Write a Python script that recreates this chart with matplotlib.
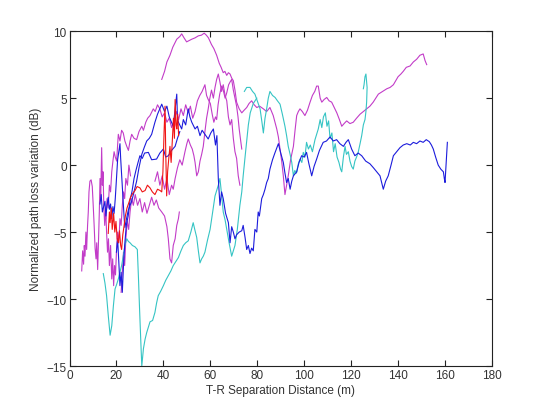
import numpy as np
import matplotlib
matplotlib.use("Agg")
import matplotlib.pyplot as plt

plt.rcParams['font.family'] = ['Liberation Sans', 'DejaVu Sans']

# measured traces, (distance m, variation dB)
mag_long = [(39.3, 6.4), (40.5, 7.0), (41.5, 7.7), (42.8, 8.2), (44, 8.8), (45.7, 9.4), (47, 9.6),
            (47.8, 9.8), (48.8, 9.5), (49.9, 9.2), (51, 9.3), (52.1, 9.4), (53.5, 9.5), (54.9, 9.65),
            (56.2, 9.7), (57.4, 9.85), (58.3, 9.7), (59.2, 9.5), (60.5, 9.0), (61.5, 8.7), (62.7, 8.2),
            (63.8, 7.6), (64.6, 7.3), (65.5, 6.9), (66.2, 7.0), (67, 6.7), (67.7, 6.9), (68.4, 6.8),
            (69.1, 6.5), (69.8, 6.3), (70.5, 5.6), (71.2, 4.7), (72.3, 4.2), (73.4, 3.9), (74.4, 4.1),
            (75.5, 4.3), (76.5, 4.6), (77.6, 4.8), (78.7, 4.5), (79.8, 4.3), (81, 4.4), (82.6, 4.2),
            (84, 4.0), (85.4, 4.3), (86.8, 3.7), (88.3, 2.7), (89, 2.1), (89.7, 1.2), (90.4, 0.3),
            (91.1, -0.8), (91.8, -2.2), (92.5, -1.5), (93.2, -0.8), (94.2, 0.4), (95.4, 1.4), (96.1, 2.6),
            (96.8, 3.7), (97.5, 4.0), (98.2, 4.2), (99.2, 4.0), (100.3, 3.7), (101.4, 4.1), (102.5, 4.7),
            (103.5, 5.2), (104.5, 5.5), (105.3, 5.9), (106, 5.9), (106.8, 5.0), (107.5, 4.7), (108.5, 4.9),
            (109.6, 5.05), (110.6, 4.8), (111.7, 4.7), (112.8, 4.3), (113.9, 3.9), (115, 3.4), (116, 2.9),
            (117, 3.1), (118.1, 3.3), (119.5, 3.1), (120.9, 3.2), (122.3, 3.5), (123.8, 3.8), (125.2, 4.0),
            (126.6, 4.2), (128, 4.4), (129.4, 4.7), (130.5, 5.0), (131.6, 5.3), (133.4, 5.5), (135.2, 5.7),
            (136.6, 5.8), (138, 6.0), (139, 6.3), (140, 6.6), (141.2, 6.8), (142.2, 7.0), (143.5, 7.3),
            (145.1, 7.4), (146.5, 7.7), (147.9, 7.9), (149.3, 8.2), (150.7, 8.3), (151.5, 7.8), (152.2, 7.5)]

mag_left = [(5.2, -7.9), (5.6, -6.4), (6.0, -7.4), (6.3, -6.0), (6.6, -6.8), (7.0, -5.0), (7.3, -6.3),
            (7.7, -4.5), (8.0, -3.5), (8.3, -2.0), (8.7, -1.2), (9.2, -1.1), (9.7, -1.6), (10.1, -3.0),
            (10.5, -4.5), (10.9, -6.2), (11.3, -7.0), (11.6, -5.8), (12.0, -7.8), (12.3, -6.0), (12.7, -3.5),
            (13.0, -1.0), (13.3, -2.5), (13.7, 1.3), (14.0, -1.5), (14.3, -0.5), (14.6, -3.0), (15.0, -4.5),
            (15.4, -3.2), (15.8, -5.0), (16.2, -6.5), (16.6, -5.5), (17, -7.5), (17.5, -6.0), (18, -8.5),
            (18.4, -7.0), (18.8, -9.0), (19.2, -7.5), (19.6, -8.2), (20, -6.5), (20.5, -5.0), (21, -5.8),
            (21.5, -4.0), (22, -4.5), (22.5, -3.0), (23, -2.0), (23.5, -2.5), (24, -1.0), (24.7, -1.5),
            (25.3, 0.0), (26, -0.8)]

mag_mid = [(15.5, -4.0), (16, -2.5), (16.5, -3.2), (17, -1.5), (17.5, -2.0), (18, -0.5), (18.5, 0.3),
           (19, 1.0), (19.5, 0.6), (20.1, 0.3), (20.5, 1.5), (20.8, 2.3), (21.5, 1.8), (22.2, 2.6),
           (22.9, 2.4), (23.6, 1.8), (24.4, 1.4), (25.1, 1.1), (25.8, 1.8), (26.5, 2.3), (27.5, 2.0),
           (28.6, 1.9), (29.6, 2.5), (30.8, 2.9), (31.5, 2.6), (32.5, 3.2), (33.3, 3.5), (34.3, 3.7),
           (35.7, 4.2), (36.5, 4.0), (37.5, 4.5), (38.5, 4.2), (39.5, 3.6), (40.5, 3.9), (41.5, 3.2),
           (42.5, 3.5), (43.5, 2.8), (44.5, 3.3), (45.5, 4.0), (46.5, 3.4), (47.5, 4.2), (48.5, 3.7),
           (49.5, 4.5), (50.6, 3.9), (51.5, 4.4), (52.5, 3.5), (53.5, 4.0), (54.5, 4.8), (55.5, 5.2),
           (56.5, 5.5), (57.7, 6.0), (58.4, 5.2), (59.1, 4.9), (60, 4.6), (60.8, 3.8), (61.5, 3.2),
           (62.2, 3.6), (62.7, 3.4), (63.3, 4.5), (64, 5.3), (64.8, 5.9), (65.5, 5.6), (66.3, 5.0),
           (67, 5.4), (67.8, 6.0), (68.4, 6.2), (69.1, 6.4), (69.8, 5.6), (70.5, 5.0), (71.2, 4.4),
           (71.8, 3.6), (72.3, 2.7), (72.8, 2.0), (73.4, 1.2)]

mag_low = [(22, -9.5), (22.5, -8.0), (23, -6.5), (23.5, -7.5), (24, -5.5), (24.6, -4.2), (25.2, -4.8),
           (25.8, -3.5), (26.5, -2.5), (27.2, -3.0), (28, -2.2), (29, -3.0), (30, -2.5), (31, -3.5),
           (32, -2.8), (33, -3.6), (34, -3.0), (35, -2.4), (36, -3.0), (37, -2.6), (38, -3.2),
           (39.3, -3.5), (40.5, -3.8), (41.5, -4.6), (42.1, -5.5), (42.8, -7.0), (43.5, -7.3),
           (44.2, -6.0), (45, -5.5), (45.7, -4.5), (46.4, -4.0), (46.8, -3.5)]

mag_v = [(36.4, -1.2), (37.5, -0.5), (38.5, -1.5), (39.5, -0.8), (40.5, -1.8), (41.5, -1.0), (42.5, -2.2),
         (43.5, -1.5), (44.2, -1.8), (45, -1.0), (46, -0.2), (47, 0.4), (48, 0.0), (49.2, 1.0),
         (50, 1.6), (50.6, 1.95), (51.5, 1.5), (52.3, 1.2), (53, 0.7), (53.5, 0.2), (54.2, -0.8),
         (54.9, -0.5), (55.6, 0.3), (56.3, 0.8), (57, 1.4), (57.7, 2.5), (58.4, 3.5), (59.1, 4.2),
         (59.8, 5.0), (60.5, 5.6), (61.3, 5.0), (62, 5.8), (62.7, 6.4), (63.4, 6.8), (64.1, 6.2),
         (64.8, 5.5), (65.5, 6.0), (66.3, 5.2), (67, 4.8), (67.7, 3.6), (68.4, 3.0), (69.1, 3.4),
         (69.8, 2.0), (70.5, 1.0), (71.2, 0.5), (71.9, -0.8), (72.6, -1.5)]

cyan_deep = [(14.4, -8.1), (15.1, -8.8), (15.8, -9.75), (16.5, -11.2), (17.3, -12.7), (18, -12.0),
             (18.7, -10.5), (19.4, -9.25), (20.1, -8.9), (20.8, -8.5), (21.5, -8.0), (22.2, -7.5),
             (22.9, -6.8), (23.6, -6.0), (24.4, -5.5), (25.1, -5.7), (25.8, -5.8), (26.8, -6.0),
             (27.9, -6.1), (28.9, -6.3), (29.4, -8.5), (29.8, -10.5), (30.3, -12.8), (30.8, -15.0),
             (31.5, -13.7), (32.2, -13.0), (32.9, -12.5), (33.6, -12.1), (34.3, -11.7), (35.4, -11.6),
             (36.4, -11.0), (37.1, -10.3), (37.8, -9.75), (38.9, -9.4), (40, -9.0), (41, -8.6),
             (42.1, -8.25), (43.2, -7.9), (44.2, -7.5), (45.3, -7.2), (46.4, -6.9), (47.5, -6.4),
             (48.5, -6.0), (49.5, -5.8), (50.6, -5.65), (51.7, -5.0), (52.7, -4.3), (53.5, -4.9),
             (54.2, -5.4), (54.9, -6.4), (55.6, -7.3), (56.3, -7.0), (57, -6.8), (57.7, -6.5),
             (58.8, -5.6), (59.9, -4.8), (61, -3.5), (62, -2.3), (63.4, -1.5), (64.1, -1.0),
             (64.8, -2.2), (65.5, -3.5), (66.3, -4.1), (67, -4.8), (68, -5.8), (69.1, -6.8),
             (69.8, -6.4), (70.5, -6.0), (71.5, -4.8), (72.6, -3.0), (73.4, -2.0), (74, -0.8),
             (74.8, 0.6), (75.5, 1.8), (76.2, 3.0), (77, 3.9), (78.3, 4.6), (79.8, 5.0)]

cyan_right = [(74.5, 5.5), (75.5, 5.8), (76.9, 5.8), (78, 5.5), (79, 5.3), (80, 4.8), (81.2, 4.2),
              (82, 3.2), (82.6, 2.4), (83.3, 3.5), (84, 4.2), (84.7, 5.0), (85.4, 5.5), (86.5, 5.2),
              (87.6, 5.05), (88.6, 4.8), (89.7, 4.55), (90.7, 3.8), (91.8, 2.9), (92.5, 2.2), (93.2, 1.4),
              (94, 0.8), (94.7, 0.2), (95.4, -0.8), (96, -0.4), (96.7, -0.6), (97.5, 0.1), (98.2, 0.45),
              (99, 0.2), (99.6, 0.95), (100.3, 0.6), (101, 1.7), (101.8, 1.2), (102.6, 1.5), (103.5, 1.0),
              (104.6, 1.9), (105.3, 2.3), (106, 2.7), (106.8, 3.4), (107.5, 2.8), (108.2, 3.6), (109, 3.9),
              (109.7, 2.9), (110.4, 3.3), (111, 2.0), (111.8, 2.4), (112.5, 1.0), (113.2, 1.6), (114, 0.6),
              (114.8, 0.2), (115.5, -0.3), (116, -0.5), (116.7, 0.6), (117.4, 1.4), (118, 0.8), (118.8, 1.0),
              (119.5, 0.3), (120.2, -0.1), (120.9, -0.3), (121.6, 0.3), (122.3, 0.6), (123, 0.95),
              (123.8, 1.6), (124.5, 2.2), (125.2, 3.0), (125.9, 3.4), (126.3, 4.0), (126.6, 4.7),
              (126.8, 5.8), (126.3, 6.8), (125.9, 6.6), (125.5, 6.0), (125.2, 5.7)]

blue_long = [(13, -2.9), (13.5, -2.2), (14, -3.5), (14.4, -3.2), (15.1, -2.7), (15.5, -3.8), (16, -3.0),
             (16.5, -2.4), (17, -3.3), (17.5, -2.9), (18, -4.0), (18.5, -3.1), (19, -3.6), (19.5, -2.5),
             (20, -1.0), (20.5, 0.4), (21, 1.0), (21.5, 1.6), (21.8, 0.5), (22.2, -0.7), (22.6, -1.8),
             (22.9, -2.7), (23.3, -4.0), (23.6, -4.65), (24.3, -4.0), (25, -3.4), (25.8, -3.0),
             (26.5, -2.7), (27.5, -2.0), (28.6, -1.2), (29.6, -0.2), (30.8, 0.8), (31.8, 1.3),
             (32.9, 1.8), (34, 2.0), (35, 2.3), (36.4, 3.2), (37.5, 3.8), (39.3, 4.55), (40.5, 4.0),
             (41.5, 4.4), (42.5, 3.6), (44.2, 2.9), (45, 4.2), (45.7, 5.3), (46, 3.5), (46.4, 3.2),
             (47.8, 2.7), (48.5, 3.4), (49.5, 3.0), (50.6, 4.2), (51.3, 3.6), (52.1, 3.2), (53.5, 2.7),
             (54.5, 2.9), (55.6, 2.2), (56.5, 2.6), (57.7, 2.3), (59.1, 1.95), (60.2, 2.4), (61.3, 2.7),
             (62.2, 1.5), (62.8, 2.2), (63.4, -1.0), (64.1, -3.0), (64.8, -2.0), (65.5, -2.5),
             (66.5, -3.6), (67.7, -4.3), (68.4, -5.8), (69.1, -4.6), (69.8, -5.0), (70.5, -5.5),
             (71.2, -5.2), (72.3, -5.0), (73.4, -4.9), (74, -4.5), (74.8, -5.4), (75.5, -6.3),
             (76.2, -6.0), (76.9, -6.6), (77.6, -6.2), (78.3, -6.4), (79, -4.8), (79.8, -5.0),
             (80.4, -3.5), (80.9, -3.8), (81.9, -2.5), (82.6, -2.2), (83.3, -1.8), (84, -1.3),
             (84.7, -1.0), (85.4, -0.3), (86.5, 0.4), (87.5, 0.9), (89, 1.6), (90, 0.9), (91.1, 0.2),
             (91.8, -0.6), (92.5, -1.3), (93.2, -1.0), (94, -1.8), (94.7, -1.2), (95.4, -0.8),
             (96.8, -0.5), (97.8, 0.2), (98.9, 0.7), (100, 0.6), (101, 0.95), (102, 0.1), (103.2, -0.8),
             (104.2, -0.1), (105.3, 0.45), (106.5, 1.1), (108.1, 1.7), (109.5, 1.8), (111, 2.1),
             (112.4, 1.8), (113.8, 1.9), (115.2, 1.6), (116.7, 1.4), (117.8, 1.7), (118.8, 1.9),
             (120.2, 1.2), (121.6, 0.7), (123, 0.9), (124.5, 0.7), (126.2, 0.3), (128, 0.1),
             (129.5, -0.2), (130.9, -0.5), (132.3, -0.8), (133, -1.3), (133.7, -1.8), (134.7, -1.2),
             (135.8, -0.8), (137, 0.0), (138, 0.7), (139.4, 1.0), (140.8, 1.3), (142.2, 1.5),
             (143.7, 1.6), (145.2, 1.5), (146.5, 1.7), (147.9, 1.6), (149.3, 1.8), (150.7, 1.7),
             (152, 1.9), (153.3, 1.75), (154.2, 1.5), (155, 1.2), (156, 0.6), (157.1, 0.0),
             (158.2, -0.3), (159.3, -0.5), (159.7, -1.0), (160, -1.3), (160.5, 0.2), (161, 1.7)]

blue_low = [(20, -6.5), (20.5, -5.5), (21, -7.2), (21.5, -9.0), (22, -8.0), (22.5, -9.5), (23, -7.5),
            (23.5, -6.0), (24.2, -4.5), (25, -3.8), (25.8, -2.6), (26.6, -2.0), (27.5, -1.0),
            (28.3, -0.4), (29.2, 0.2), (30, 0.7), (31, 0.5), (32, 0.9), (33.6, 0.95), (35, 0.4),
            (37.1, 0.45), (38.5, 0.9), (40, 1.2), (41, 0.6), (42.1, 0.7), (43.5, 1.1), (45, 1.4),
            (46, 2.0), (47, 2.5)]

red_run = [(16.5, -5.1), (17, -3.5), (17.3, -4.3), (17.8, -3.2), (18.2, -4.8), (18.8, -3.6), (19.3, -5.0),
           (19.8, -4.2), (20.3, -5.5), (20.8, -5.8), (21.3, -4.9), (21.8, -6.0), (22.2, -6.3),
           (22.7, -5.2), (23.2, -4.6), (23.8, -3.8), (24.5, -3.2), (25.3, -2.8), (26, -2.4), (27, -2.1),
           (27.9, -1.9), (28.8, -1.6), (30, -1.7), (31, -2.0), (32.2, -1.9), (33.2, -1.5), (34.3, -1.7),
           (35.3, -2.0), (36.4, -2.2), (37.5, -1.8), (38.6, -1.9), (39.3, -2.0), (39.8, -0.5),
           (40.3, 2.5), (40.7, 4.4), (41.0, 1.0), (41.4, -2.3), (41.8, -0.5), (42.3, 0.5), (42.8, 1.4),
           (43.3, 0.2), (43.8, 1.8), (44.3, 3.5), (44.7, 2.0), (45, 4.9), (45.4, 3.0), (45.7, 2.7),
           (46.1, 3.8), (46.5, 2.2)]

magenta = '#c23cc8'
cyan = '#35c4c4'
blue = '#1c1cdc'
red = '#f01414'

fig = plt.figure(figsize=(5.43, 4.02), dpi=100)
ax = fig.add_axes([0.128, 0.087, 0.778, 0.833])

for tr in [mag_long, mag_left, mag_mid, mag_low, mag_v]:
    d = np.array(tr)
    ax.plot(d[:, 0], d[:, 1], color=magenta, lw=0.8)
for tr in [cyan_deep, cyan_right]:
    d = np.array(tr)
    ax.plot(d[:, 0], d[:, 1], color=cyan, lw=0.8)
for tr in [blue_long, blue_low]:
    d = np.array(tr)
    ax.plot(d[:, 0], d[:, 1], color=blue, lw=0.8)
d = np.array(red_run)
ax.plot(d[:, 0], d[:, 1], color=red, lw=0.8)

ax.set_xlim(0, 180)
ax.set_ylim(-15, 10)
ax.set_xticks(np.arange(0, 181, 20))
ax.set_yticks(np.arange(-15, 11, 5))
ax.tick_params(direction='in', top=True, right=True, length=4, labelsize=8.5, pad=2,
               colors='#222222', labelcolor='#333333')
for s in ax.spines.values():
    s.set_linewidth(0.8)
    s.set_color('#222222')
ax.set_xlabel('T-R Separation Distance (m)', fontsize=8.5, labelpad=2, color='#333333')
ax.set_ylabel('Normalized path loss variation (dB)', fontsize=8.5, labelpad=3, color='#333333')

fig.savefig('out.png', dpi=100)
